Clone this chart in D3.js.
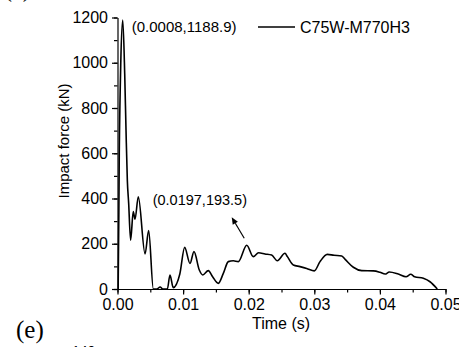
<!DOCTYPE html>
<html>
<head>
<meta charset="utf-8">
<script src="https://cdn.jsdelivr.net/npm/d3@7"></script>
<style>
  body { margin: 0; background: #fff; }
  svg { display: block; font-family: "Liberation Sans", Arial, sans-serif; }
</style>
</head>
<body>
<div id="chart"></div>
<script>
// impact force history, C75W-M770H3
const time = [0, 0.0001, 0.00027, 0.0005, 0.0008, 0.0011, 0.0013, 0.0015, 0.0017, 0.0020,
  0.0024, 0.00267, 0.00317, 0.0042, 0.00475, 0.00546, 0.0060, 0.0065, 0.0069, 0.0076,
  0.0080, 0.0085, 0.0095, 0.01024, 0.01105, 0.01166, 0.01247, 0.0130, 0.01384, 0.0145,
  0.01537, 0.01613, 0.01689, 0.01765, 0.01841, 0.0197, 0.0207, 0.0215, 0.02248, 0.0235,
  0.02436, 0.02553, 0.0259, 0.0268, 0.02782, 0.02884, 0.0300, 0.03087, 0.03198, 0.0330,
  0.03418, 0.0347, 0.03595, 0.03723, 0.0390, 0.0400, 0.0408, 0.04143, 0.0428, 0.04398,
  0.0447, 0.0453, 0.04662, 0.04764, 0.04875];
const force = [0, 0, 600, 1000, 1188.9, 950, 700, 480, 380, 216,
  342, 308, 408, 155, 258, 0, 0, 9, 0, 0,
  62, 6, 66, 184, 113, 165, 84, 62, 81, 54,
  25, 69, 121, 125, 121, 193.5, 143, 160, 155, 150,
  125, 158, 143, 106, 99, 91, 80, 121, 153, 149,
  146, 131, 96, 81, 80, 74, 66, 75, 66, 54,
  65, 54, 47, 32, 0];

const xTicks = [0, 0.01, 0.02, 0.03, 0.04, 0.05];
const yTicks = [0, 200, 400, 600, 800, 1000, 1200];
const seriesName = "C75W-M770H3";
const peakLabel = "(0.0008,1188.9)";
const secondLabel = "(0.0197,193.5)";

const W = 459, H = 347;
const svg = d3.select("#chart").append("svg").attr("width", W).attr("height", H);

const x = d3.scaleLinear().domain([0, 0.05]).range([117.5, 445.5]);
const y = d3.scaleLinear().domain([0, 1200]).range([289, 17.5]);

const data = time.map((t, i) => ({ t: t, f: force[i] }));

// minor ticks
const xMinor = d3.range(0, 0.0501, 0.005);
const yMinor = d3.range(0, 1201, 100);

const gx = svg.append("g").attr("transform", `translate(0,${y(0)})`);
gx.call(d3.axisBottom(x).tickValues(xMinor).tickSize(3.5).tickFormat("").tickSizeOuter(0));
gx.append("g").call(d3.axisBottom(x).tickValues(xTicks).tickSize(5.5).tickSizeOuter(0)
  .tickFormat(d3.format(".2f")).tickPadding(4))
  .call(g => g.select(".domain").remove());

const gy = svg.append("g").attr("transform", `translate(${x(0)},0)`);
gy.call(d3.axisLeft(y).tickValues(yMinor).tickSize(3.5).tickFormat("").tickSizeOuter(0));
gy.append("g").call(d3.axisLeft(y).tickValues(yTicks).tickSize(5.5).tickSizeOuter(0)
  .tickFormat(d3.format("d")).tickPadding(4))
  .call(g => g.select(".domain").remove());

svg.selectAll(".tick text").attr("font-size", 16).attr("font-family", "Liberation Sans, Arial, sans-serif").attr("fill", "#000");
svg.selectAll(".domain, .tick line").attr("stroke", "#000").attr("stroke-width", 1.2);

// curve
const line = d3.line().x(d => x(d.t)).y(d => y(d.f)).curve(d3.curveMonotoneX);
svg.append("path").datum(data).attr("d", line)
  .attr("fill", "none").attr("stroke", "#000").attr("stroke-width", 1.6)
  .attr("stroke-linejoin", "round");

// axis titles
svg.append("text").attr("x", 281).attr("y", 329).attr("text-anchor", "middle")
  .attr("font-size", 16).text("Time (s)");
svg.append("text").attr("transform", "translate(69,141) rotate(-90)")
  .attr("text-anchor", "middle").attr("font-size", 15).text("Impact force (kN)");

// legend
svg.append("line").attr("x1", 258).attr("x2", 295).attr("y1", 27).attr("y2", 27)
  .attr("stroke", "#000").attr("stroke-width", 1.6);
svg.append("text").attr("x", 300).attr("y", 33).attr("font-size", 16).text(seriesName);

// annotations
svg.append("text").attr("x", x(0.0008) + 9).attr("y", 32).attr("font-size", 15).text(peakLabel);
svg.append("text").attr("x", 152.7).attr("y", 205).attr("font-size", 14.5).text(secondLabel);

// arrow toward the second peak label
const ax0 = x(0.0197) - 2.5, ay0 = y(193.5) - 7;
const ax1 = x(0.0197) - 15, ay1 = y(193.5) - 28;
const ang = Math.atan2(ay1 - ay0, ax1 - ax0);
const hl = 7, hw = 3;
const bx = ax1 - hl * Math.cos(ang), by = ay1 - hl * Math.sin(ang);
svg.append("line")
  .attr("x1", ax0).attr("y1", ay0).attr("x2", bx).attr("y2", by)
  .attr("stroke", "#000").attr("stroke-width", 1.2);
svg.append("path")
  .attr("d", `M${ax1},${ay1}L${bx - hw * Math.sin(ang)},${by + hw * Math.cos(ang)}` +
    `L${bx + hw * Math.sin(ang)},${by - hw * Math.cos(ang)}Z`)
  .attr("fill", "#000");

// panel letters (neighbouring panels cropped)
svg.append("text").attr("x", 4).attr("y", -3).attr("font-size", 24)
  .attr("font-family", "Liberation Serif, Times New Roman, serif").text("(a)");
svg.append("text").attr("x", 16).attr("y", 338).attr("font-size", 25)
  .attr("font-family", "Liberation Serif, Times New Roman, serif").text("(e)");
svg.append("text").attr("x", 72).attr("y", 356).attr("font-size", 14).text("140");
</script>
</body>
</html>
